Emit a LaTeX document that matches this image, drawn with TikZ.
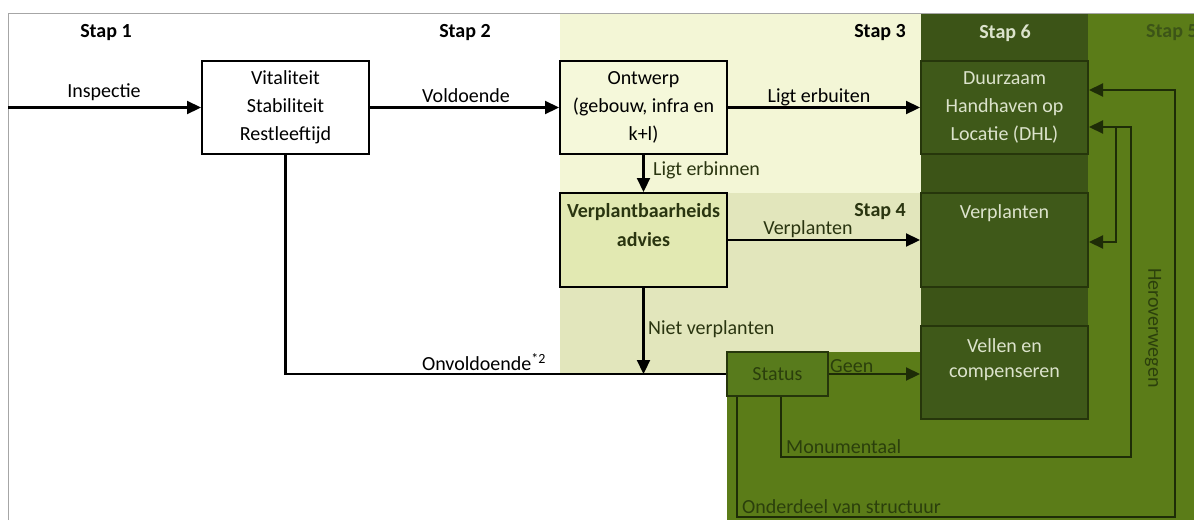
\documentclass[tikz,border=0pt]{standalone}
\usepackage{fontspec}
\setmainfont{Carlito}
\usetikzlibrary{arrows.meta}
\definecolor{stthree}{HTML}{F3F6D6}
\definecolor{stfour}{HTML}{E2E6BC}
\definecolor{vpafill}{HTML}{E2E9B2}
\definecolor{ontwfill}{HTML}{F5F8DA}
\definecolor{darkcol}{HTML}{3C5417}
\definecolor{darkbox}{HTML}{3F5919}
\definecolor{darkedge}{HTML}{26360B}
\definecolor{grn}{HTML}{5B7C18}
\definecolor{statfill}{HTML}{587B1C}
\definecolor{grntxt}{HTML}{2B3F0C}
\definecolor{olivetxt}{HTML}{2A3510}
\definecolor{lighttxt}{HTML}{DCE3CC}
\definecolor{glines}{HTML}{1E2C07}
\begin{document}
\begin{tikzpicture}[x=1pt,y=-1pt,
  every node/.style={font=\fontsize{20}{28}\selectfont, inner sep=0pt},
  box/.style={draw=black, line width=2pt, minimum width=167pt, minimum height=93pt, align=center},
  dbox/.style={draw=darkedge, fill=darkbox, line width=2pt, minimum width=167pt, minimum height=93pt, align=center, text=lighttxt},
  sbox/.style={draw=darkedge, fill=statfill, line width=2pt, minimum width=101pt, minimum height=44pt, text=grntxt},
  lbl/.style={text=black},
  olbl/.style={text=olivetxt},
  glbl/.style={text=grntxt},
  stp/.style={font=\fontsize{20}{28}\selectfont\bfseries},
  arr/.style={-{Triangle[length=14pt,width=13pt]}, line width=2.2pt, draw=black},
  plain/.style={line width=2.2pt, draw=black},
  garr/.style={-{Triangle[length=14pt,width=13pt]}, line width=2.2pt, draw=glines}
]
\useasboundingbox (0,0) rectangle (1194,520);
\clip (0,0) rectangle (1194,520);
\fill[white] (0,0) rectangle (1194,520);
% step regions
\fill[stthree] (560,13) rectangle (921,193);
\fill[stfour] (560,193) rectangle (921,374);
\fill[grn] (1088,13) rectangle (1194,520);
\fill[grn] (727,352) rectangle (1194,520);
\fill[darkcol] (921,13) rectangle (1088,419);
% frame
\draw[gray!70, line width=1pt] (8,520) -- (8,13) -- (1194,13);
% step labels
\node[stp] (s1) at (106,33) {Stap 1};
\node[stp] (s2) at (465,33) {Stap 2};
\node[stp] (s3) at (880,33) {Stap 3};
\node[stp, text=lighttxt] (s6) at (1005,33) {Stap 6};
\node[stp, text=darkcol, anchor=west] (s5) at (1146,33) {Stap 5};
\node[stp, text=olivetxt] (s4) at (880,212) {Stap 4};
% boxes
\node[box, fill=white] (vit) at (285.5,107.5) {Vitaliteit\\Stabiliteit\\Restleeftijd};
\node[box, fill=ontwfill] (ontw) at (643.5,107.5) {Ontwerp\\(gebouw, infra en\\k+l)};
\node[dbox] (dhl) at (1004.5,107.5) {Duurzaam\\Handhaven op\\Locatie (DHL)};
\node[box, fill=vpafill, minimum height=94pt] (vpa) at (643.5,240) {};
\node[anchor=north, align=center, text=olivetxt, font=\fontsize{20}{29}\selectfont\bfseries] (vpat) at ([yshift=-11pt]vpa.north) {Verplantbaarheids\\advies};
\node[dbox, minimum height=94pt] (verpl) at (1004.5,240) {};
\node[text=lighttxt] (verplt) at (1004.5,213) {Verplanten};
\node[dbox] (vellen) at (1004.5,372.5) {};
\node[align=center, text=lighttxt, font=\fontsize{20}{25}\selectfont] (vellent) at (1004.5,360) {Vellen en\\compenseren};
\node[sbox] (status) at (777.5,374) {Status};
% connectors
\coordinate (start) at (8,107.5);
\draw[arr] (start) -- (vit.west);
\node[lbl] (linsp) at (104,92) {Inspectie};
\draw[arr] (vit.east) -- (ontw.west);
\node[lbl] (lvold) at (466,96) {Voldoende};
\draw[arr] (ontw.east) -- (dhl.west);
\node[lbl] (lbuiten) at (819,97) {Ligt erbuiten};
\draw[arr] (ontw.south) -- (vpa.north);
\node[olbl, anchor=west] (lbinnen) at (653,170) {Ligt erbinnen};
\draw[arr] (vpa.east) -- (verpl.west);
\node[olbl] (lverpl) at (808,229) {Verplanten};
\coordinate (nv) at (vpa.south |- status.west);
\draw[arr] (vpa.south) -- (nv);
\node[olbl, anchor=west] (lniet) at (648,329) {Niet verplanten};
\draw[plain] (vit.south) |- (status.west);
\node[lbl] (lonv) at (484,362) {Onvoldoende\textsuperscript{*2}};
\draw[garr] (status.east) -- (status.east -| vellen.west);
\node[glbl, anchor=west] (lgeen) at (830,366) {Geen};
% Monumentaal
\coordinate (mx) at (781,457);
\coordinate (my) at (1131,127);
\draw[garr] (mx |- status.south) -- (mx) -| (my) -- (my -| dhl.east);
\node[glbl, anchor=west] (lmon) at (786,447) {Monumentaal};
% Onderdeel van structuur
\coordinate (ox) at (737,517);
\coordinate (oy) at (1175,90);
\draw[garr] (ox |- status.south) -- (ox) -| (oy) -- (oy -| dhl.east);
\node[glbl, anchor=west] (lond) at (742,507) {Onderdeel van structuur};
% Heroverwegen branch
\coordinate (hx) at (1116,127);
\coordinate (hy) at (1116,242);
\draw[garr] (hx) -- (hy) -- (hy -| verpl.east);
\node[glbl, rotate=-90] (lher) at (1153,328) {Heroverwegen};
\end{tikzpicture}
\end{document}
